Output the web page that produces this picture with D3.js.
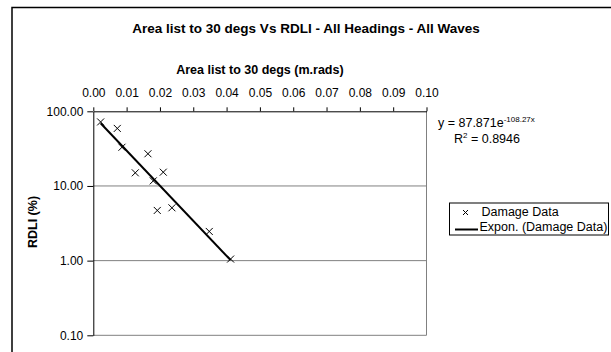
<!DOCTYPE html>
<html>
<head>
<meta charset="utf-8">
<script src="https://cdn.jsdelivr.net/npm/d3@7"></script>
<style>
  html, body { margin: 0; padding: 0; background: #fff; }
  svg { display: block; font-family: "Liberation Sans", Arial, sans-serif; }
</style>
</head>
<body>
<svg id="chart" width="611" height="352"></svg>
<script>
// Area list to 30 degs (m.rads) for each damage case
const areaList = [0.0022, 0.0072, 0.0086, 0.0164, 0.0126, 0.0210, 0.0180, 0.0192, 0.0236, 0.0348, 0.0412];
// RDLI (%) for each damage case
const rdli = [72, 59, 33, 27, 15, 15.3, 11.7, 4.7, 5.1, 2.46, 1.05];
// Exponential fit y = a * e^(b x)
const fitA = 87.871;
const fitB = -108.27;
const fitR2 = 0.8946;
// Axis ticks
const xTicks = [0, 0.01, 0.02, 0.03, 0.04, 0.05, 0.06, 0.07, 0.08, 0.09, 0.10];
const yTicks = [0.1, 1, 10, 100];

const svg = d3.select("#chart");

// outer chart frame
svg.append("rect")
  .attr("x", 12).attr("y", 7.5)
  .attr("width", 640).attr("height", 400)
  .attr("fill", "none").attr("stroke", "#000").attr("stroke-width", 1.5);

const plotL = 93.3, plotR = 426.5, plotT = 111.3, plotB = 335.3;
const x = d3.scaleLinear().domain([0, 0.1]).range([plotL, plotR]);
const y = d3.scaleLog().domain([0.1, 100]).range([plotB, plotT]);

// horizontal gridlines
svg.append("g").selectAll("line")
  .data(yTicks.filter(v => v < 100))
  .join("line")
  .attr("x1", plotL).attr("x2", plotR)
  .attr("y1", d => y(d)).attr("y2", d => y(d))
  .attr("stroke", "#808080").attr("stroke-width", 1);

// right edge of plot area
svg.append("line")
  .attr("x1", plotR).attr("x2", plotR)
  .attr("y1", plotT).attr("y2", plotB)
  .attr("stroke", "#808080").attr("stroke-width", 1);

// top x axis
const xAxis = d3.axisTop(x).tickValues(xTicks).tickFormat(d3.format(".2f"))
  .tickSizeInner(4).tickSizeOuter(0).tickPadding(10.5);
const gx = svg.append("g").attr("transform", `translate(0,${plotT})`).call(xAxis);
gx.select(".domain").attr("stroke", "#000");
gx.selectAll("text").attr("font-size", 12).attr("fill", "#000")
  .attr("font-family", "Liberation Sans, Arial, sans-serif");

// left y axis
const yAxis = d3.axisLeft(y).tickValues(yTicks).tickFormat(d3.format(".2f"))
  .tickSizeInner(6).tickSizeOuter(0).tickPadding(4);
const gy = svg.append("g").attr("transform", `translate(${plotL},0)`).call(yAxis);
gy.select(".domain").attr("stroke", "#000");
gy.selectAll("text").attr("font-size", 12).attr("fill", "#000")
  .attr("font-family", "Liberation Sans, Arial, sans-serif");

// titles
svg.append("text")
  .attr("x", 306).attr("y", 33)
  .attr("text-anchor", "middle")
  .attr("font-size", 13.5).attr("font-weight", "bold")
  .text("Area list to 30 degs Vs RDLI - All Headings - All Waves");

svg.append("text")
  .attr("x", (plotL + plotR) / 2).attr("y", 74)
  .attr("text-anchor", "middle")
  .attr("font-size", 12.5).attr("font-weight", "bold")
  .text("Area list to 30 degs (m.rads)");

svg.append("text")
  .attr("transform", "translate(37,222) rotate(-90)")
  .attr("text-anchor", "middle")
  .attr("font-size", 12.5).attr("font-weight", "bold")
  .text("RDLI (%)");

// exponential trend line (straight on a log axis)
const xMin = d3.min(areaList), xMax = d3.max(areaList);
const trend = [xMin, xMax].map(v => [v, fitA * Math.exp(fitB * v)]);
svg.append("path")
  .datum(trend)
  .attr("d", d3.line().x(d => x(d[0])).y(d => y(d[1])))
  .attr("fill", "none").attr("stroke", "#000").attr("stroke-width", 2);

// damage data markers
const cross = (g, s) => g.append("path")
  .attr("d", `M${-s},${-s}L${s},${s}M${-s},${s}L${s},${-s}`)
  .attr("stroke", "#000").attr("stroke-width", 1).attr("fill", "none");

const pts = svg.append("g").selectAll("g")
  .data(areaList.map((v, i) => [v, rdli[i]]))
  .join("g")
  .attr("transform", d => `translate(${x(d[0])},${y(d[1])})`);
pts.each(function () { cross(d3.select(this), 3.5); });

// fit equation
const eq = svg.append("text").attr("x", 438).attr("y", 127).attr("font-size", 12.5);
eq.append("tspan").text(`y = ${fitA}e`);
eq.append("tspan").attr("font-size", 8).attr("dy", -5).text(`${fitB}x`);

const r2 = svg.append("text").attr("x", 454).attr("y", 143).attr("font-size", 12.5);
r2.append("tspan").text("R");
r2.append("tspan").attr("font-size", 8).attr("dy", -5).text("2");
r2.append("tspan").attr("dy", 5).text(` = ${fitR2}`);

// legend
const lg = svg.append("g");
lg.append("rect")
  .attr("x", 449.5).attr("y", 203).attr("width", 159).attr("height", 32)
  .attr("fill", "#fff").attr("stroke", "#000").attr("stroke-width", 1);
cross(lg.append("g").attr("transform", "translate(465.5,212.5)"), 2.5);
lg.append("text").attr("x", 481.5).attr("y", 216).attr("font-size", 12.5).text("Damage Data");
lg.append("line").attr("x1", 455).attr("x2", 478).attr("y1", 229.5).attr("y2", 229.5)
  .attr("stroke", "#000").attr("stroke-width", 2);
lg.append("text").attr("x", 479.5).attr("y", 231).attr("font-size", 12.5).text("Expon. (Damage Data)");
</script>
</body>
</html>
